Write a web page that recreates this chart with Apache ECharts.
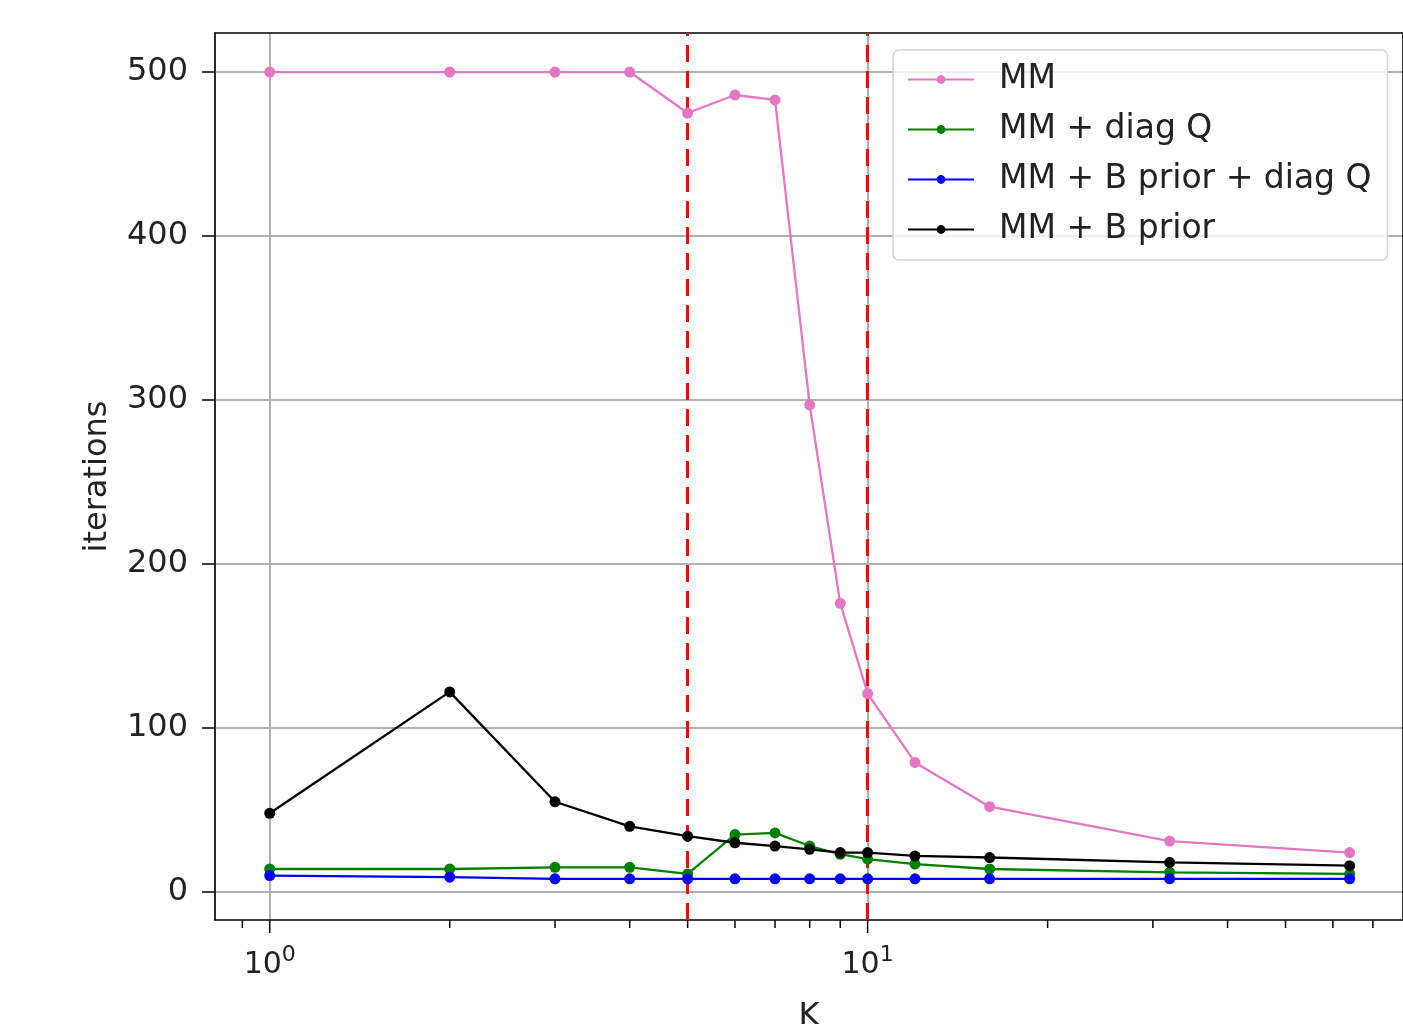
<!DOCTYPE html>
<html>
<head>
<meta charset="utf-8">
<title>iterations vs K</title>
<script src="https://cdn.jsdelivr.net/npm/echarts@6/dist/echarts.min.js"></script>
<style>
	html, body { margin: 0; padding: 0; background: #fff; }
	#containerForm { width: 1403px; height: 1024px; }
</style>
</head>
<body>
<div id="containerForm"></div>
<script>
// K values (x axis, log)
var kList = [1, 2, 3, 4, 5, 6, 7, 8, 9, 10, 12, 16, 32, 64];
// series values
var mmList = [500, 500, 500, 500, 475, 486, 483, 297, 176, 121, 79, 52, 31, 24];
var mmDiagList = [14, 14, 15, 15, 11, 35, 36, 28, 23, 20, 17, 14, 12, 11];
var mmBDiagList = [10, 9, 8, 8, 8, 8, 8, 8, 8, 8, 8, 8, 8, 8];
var mmBList = [48, 122, 55, 40, 34, 30, 28, 26, 24, 24, 22, 21, 18, 16];
// legend names
var seriesNames = ['MM', 'MM + diag Q', 'MM + B prior + diag Q', 'MM + B prior'];
// red dashed vertical lines
var vLineList = [5, 10];
// x ticks
var majorTickList = [1, 10];
var minorTickList = [0.9, 2, 3, 4, 5, 6, 7, 8, 9, 20, 30, 40, 50, 60, 70];
var yTickList = [0, 100, 200, 300, 400, 500];

var font = 'DejaVu Sans';
var textColor = '#222';
var yMin = -17.1, yMax = 523.8;
var xMin = 0.81, xMax = 78.6;

function zip(xs, ys){
	var out = [];
	for (var i = 0; i < xs.length; i++) {
		out.push([xs[i], ys[i]]);
	}
	return out;
}

function lineSeries(name, color, values){
	return {
		name: name,
		type: 'line',
		data: zip(kList, values),
		symbol: 'circle',
		symbolSize: 11,
		showSymbol: true,
		itemStyle: { color: color },
		lineStyle: { color: color, width: 2.3 },
		z: 6
	};
}

initData();

//初始化页面数据
function initData(){
	var myChart = echarts.init(document.getElementById("containerForm"));

	var tickData = [];
	majorTickList.forEach(function(v){ tickData.push([v, 13]); });
	minorTickList.forEach(function(v){ tickData.push([v, 8]); });

	var spine = { show: true, onZero: false, lineStyle: { color: '#000', width: 1.5 } };

	var option = {
		animation: false,
		backgroundColor: '#fff',
		grid: { left: 215, right: 0, top: 33, bottom: 104, outerBoundsMode: 'none', containLabel: false },
		legend: {
			data: seriesNames,
			orient: 'vertical',
			left: 893, top: 50,
			padding: [13, 16, 14, 14],
			itemGap: 17,
			itemWidth: 66, itemHeight: 11,
			z: 12,
			backgroundColor: 'rgba(255,255,255,0.8)',
			borderColor: '#d4d4d4', borderWidth: 1.5, borderRadius: 6,
			textStyle: { fontFamily: font, fontSize: 33, color: textColor, padding: [0, 0, 0, 20] }
		},
		xAxis: [{
			type: 'log',
			logBase: 10,
			min: xMin, max: xMax,
			name: 'K',
			nameLocation: 'middle',
			nameGap: 81,
			nameTextStyle: { fontFamily: font, fontSize: 32, color: textColor },
			z: 4,
			axisLine: spine,
			axisTick: { show: false },
			axisLabel: {
				margin: 24,
				fontFamily: font, fontSize: 30, color: textColor,
				formatter: function(v){
					var l = Math.log(v) / Math.LN10;
					if (Math.abs(l - Math.round(l)) > 1e-6) return '';
					return '{b|10}{s|' + Math.round(l) + '}';
				},
				rich: {
					b: { fontFamily: font, fontSize: 30, color: textColor, lineHeight: 36, verticalAlign: 'bottom' },
					s: { fontFamily: font, fontSize: 22, color: textColor, lineHeight: 36, verticalAlign: 'top' }
				}
			},
			splitLine: { show: true, lineStyle: { color: '#b0b0b0', width: 2 } }
		}, {
			// top spine
			type: 'log', logBase: 10, min: xMin, max: xMax,
			position: 'top', z: 4,
			axisLine: spine, axisTick: { show: false }, axisLabel: { show: false },
			splitLine: { show: false }
		}],
		yAxis: [{
			type: 'value',
			min: yMin, max: yMax,
			name: 'iterations',
			nameLocation: 'middle',
			nameRotate: 90,
			nameGap: 101,
			nameTextStyle: { fontFamily: font, fontSize: 32, color: textColor },
			z: 4,
			axisLine: spine,
			axisTick: { show: true, length: 13, customValues: yTickList, lineStyle: { color: '#000', width: 1.5 } },
			axisLabel: {
				margin: 27,
				customValues: yTickList,
				fontFamily: font, fontSize: 32, color: textColor
			},
			splitLine: { show: true, lineStyle: { color: '#b0b0b0', width: 2 } }
		}, {
			// right spine
			type: 'value', min: yMin, max: yMax,
			position: 'right', z: 4,
			axisLine: spine, axisTick: { show: false }, axisLabel: { show: false },
			splitLine: { show: false }
		}],
		series: [
			lineSeries(seriesNames[0], '#e377c2', mmList),
			lineSeries(seriesNames[1], '#008000', mmDiagList),
			lineSeries(seriesNames[2], '#0000ff', mmBDiagList),
			lineSeries(seriesNames[3], '#000000', mmBList),
			{
				// red dashed vertical lines
				name: 'vlines',
				type: 'line',
				data: [],
				z: 10,
				silent: true,
				markLine: {
					symbol: 'none',
					silent: true,
					label: { show: false },
					lineStyle: { color: '#ff0000', type: [17, 9], width: 3 },
					data: vLineList.map(function(v){ return { xAxis: v }; })
				}
			},
			{
				// x axis major/minor ticks
				name: 'xticks',
				type: 'custom',
				silent: true,
				clip: false,
				z: 5,
				data: tickData,
				renderItem: function(params, api){
					var p = api.coord([api.value(0), yMin]);
					var len = api.value(1);
					return {
						type: 'line',
						shape: { x1: p[0], y1: p[1], x2: p[0], y2: p[1] + len },
						style: { stroke: '#000', lineWidth: 1.5 }
					};
				}
			}
		]
	};
	if (option && typeof option === "object") {
		myChart.setOption(option, true);
	}
}
</script>
</body>
</html>
